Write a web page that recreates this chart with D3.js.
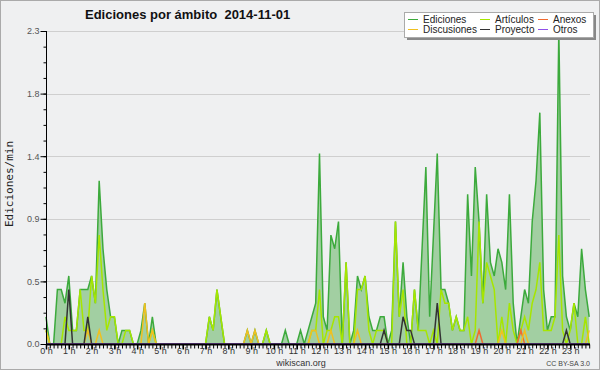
<!DOCTYPE html>
<html>
<head>
<meta charset="utf-8">
<script src="https://cdn.jsdelivr.net/npm/d3@7"></script>
<style>
  body { margin: 0; background: #eff0f1; }
  svg { display: block; }
  text { font-family: "Liberation Sans", Arial, sans-serif; }
</style>
</head>
<body>
<script>
// 10-minute buckets, 144 per day (edits per minute)
const ediciones = [
  0.2,0,0,0.4,0.4,0.3,0.5,0.1,0.1,0.4,
  0.4,0.4,0.5,0.3,1.2,0.7,0.4,0.2,0.2,0,
  0.1,0.1,0.1,0,0,0.1,0.3,0,0.2,0,
  0,0,0,0,0,0,0,0,0,0,
  0,0,0,0.2,0.1,0.4,0.2,0,0,0,
  0,0,0,0.1,0,0.1,0,0,0.1,0,
  0,0,0,0.1,0,0,0,0.1,0,0.1,
  0.2,0.3,1.4,0.2,0.1,0.8,0.7,0.9,0,0.6,
  0,0.1,0.5,0.4,0.5,0.2,0.1,0.1,0.2,0.2,
  0,0.1,0.9,0.2,0.6,0.2,0,0.4,0.1,0.7,
  1.3,0.2,0.8,1.4,0.4,0.4,0.3,0.1,0.2,0.1,
  0.1,1.1,0.5,1.3,0.9,0.3,1.1,0.6,0.5,0.7,
  0.6,0.4,1.1,0.3,0,0.2,0.4,0.3,0.9,1.2,
  1.7,0.4,0.1,0.2,0.2,2.3,0.5,0.2,0.1,0.3,
  0.2,0.7,0.4,0.2
];
const articulos = [
  0.1,0,0,0,0,0.2,0.1,0.1,0.1,0.4,
  0.1,0.1,0.5,0.3,0.8,0.4,0.1,0.2,0.2,0,
  0,0.1,0.1,0,0,0,0,0,0.1,0,
  0,0,0,0,0,0,0,0,0,0,
  0,0,0,0.2,0.1,0.4,0.2,0,0,0,
  0,0,0,0,0,0,0,0,0.1,0,
  0,0,0,0,0,0,0,0,0,0,
  0.1,0.1,0.4,0,0.1,0.1,0.2,0.2,0,0.6,
  0,0,0.4,0.4,0.5,0.1,0,0.1,0.1,0.1,
  0,0,0.9,0.2,0.4,0,0,0.4,0.1,0.1,
  0.1,0,0.1,0,0.4,0.3,0.3,0.1,0.2,0.1,
  0.1,0.2,0,0.1,0.9,0.3,0.6,0.5,0.4,0,
  0.2,0,0.3,0.1,0,0.1,0.2,0.1,0.3,0.4,
  0.6,0.1,0.1,0.1,0.2,0.8,0.1,0,0.1,0.3,
  0,0,0.2,0
];
const anexos = [
  0,0,0,0,0,0,0,0,0,0, 0,0,0,0,0,0,0,0,0,0,
  0,0,0,0,0,0,0,0,0,0, 0,0,0,0,0,0,0,0,0,0,
  0,0,0,0,0,0,0,0,0,0, 0,0,0,0,0,0,0,0,0,0,
  0,0,0,0,0,0,0,0,0,0, 0,0,0,0,0,0,0,0,0,0,
  0,0,0,0,0,0,0,0,0,0, 0,0,0,0,0,0,0,0,0,0,
  0,0,0,0,0,0,0,0,0,0, 0,0,0,0,0.1,0,0,0,0,0,
  0,0,0,0,0,0.1,0,0,0,0, 0,0,0,0,0,0,0,0,0,0,
  0,0,0,0
];
const discusiones = [
  0.1,0,0,0,0,0,0,0,0,0, 0,0.1,0,0,0.1,0,0,0,0,0,
  0,0,0,0,0,0,0.3,0,0.1,0, 0,0,0,0,0,0,0,0,0,0,
  0,0,0,0,0,0,0,0,0,0, 0,0,0,0.1,0,0.1,0,0,0,0,
  0,0,0,0,0,0,0,0,0,0, 0.1,0.1,0,0,0,0.1,0,0,0,0,
  0,0,0.1,0,0,0,0,0,0,0, 0,0,0,0,0,0,0,0,0,0,
  0,0,0,0,0,0,0,0,0,0, 0,0,0,0,0,0,0,0,0,0,
  0.1,0,0,0,0,0,0.1,0,0,0, 0,0,0,0,0,0,0,0,0,0,
  0,0,0,0.1
];
const proyecto = [
  0,0,0,0,0,0,0.4,0,0,0, 0,0.2,0,0,0,0,0,0,0,0,
  0,0,0,0,0,0,0,0,0,0, 0,0,0,0,0,0,0,0,0,0,
  0,0,0,0,0,0,0,0,0,0, 0,0,0,0,0,0,0,0,0,0,
  0,0,0,0,0,0,0,0,0,0, 0,0,0,0,0,0,0,0,0,0,
  0,0,0,0,0,0,0,0,0,0.1, 0,0,0,0,0.2,0.1,0.1,0,0,0,
  0,0,0,0.3,0,0,0,0,0,0, 0,0,0,0,0,0,0,0,0,0,
  0,0,0,0,0,0,0,0,0,0, 0,0,0,0,0,0,0,0.1,0,0,
  0,0,0,0
];
const otros = new Array(144).fill(0);

const hourLabels = d3.range(24).map(h => h + " h");
const yTickLabels = ["0.0","0.5","0.9","1.4","1.8","2.3"];

const series = [
  {name: "Ediciones",   values: ediciones,   color: "#3caa3c"},
  {name: "Artículos",   values: articulos,   color: "#a6e600"},
  {name: "Anexos",      values: anexos,      color: "#f06a30"},
  {name: "Discusiones", values: discusiones, color: "#f0c020"},
  {name: "Proyecto",    values: proyecto,    color: "#333333"},
  {name: "Otros",       values: otros,       color: "#9050e8"}
];

const width = 600, height = 370;
const x = d3.scaleLinear().domain([0, 144]).range([46, 593]);
const y = d3.scaleLinear().domain([0, 2.3]).range([344, 31]);

const svg = d3.select("body").append("svg")
  .attr("width", width).attr("height", height);

svg.append("rect").attr("x", 0.5).attr("y", 0.5)
  .attr("width", width - 1).attr("height", height - 1)
  .attr("fill", "#eff0f1").attr("stroke", "#aaa");

// gridlines at the major y ticks
const majorY = d3.range(6).map(k => k * 2.3 / 5);
svg.append("g").selectAll("line").data(majorY.slice(1)).join("line")
  .attr("x1", 46).attr("x2", 590)
  .attr("y1", d => Math.round(y(d)) + 0.5).attr("y2", d => Math.round(y(d)) + 0.5)
  .attr("stroke", "#cfcfcf");

// total area
const area = d3.area().x((d, i) => x(i)).y0(y(0)).y1(d => y(d));
svg.append("path").datum(ediciones)
  .attr("d", area).attr("fill", "#a2cfa2");

const line = d3.line().x((d, i) => x(i)).y(d => y(d));
series.forEach(s => {
  svg.append("path").datum(s.values)
    .attr("d", line)
    .attr("fill", "none")
    .attr("stroke", s.color)
    .attr("stroke-width", 1.5)
    .attr("stroke-linejoin", "miter");
});

// y axis
const minorY = d3.range(21).map(k => k * 2.3 / 20);
const yMinor = d3.axisLeft(y).tickValues(minorY).tickSize(3).tickFormat("");
svg.append("g").attr("transform", "translate(46.5,0)").call(yMinor)
  .call(g => g.select(".domain").remove());
const yMajor = d3.axisLeft(y).tickValues(majorY).tickSize(6)
  .tickFormat((d, i) => yTickLabels[i]);
svg.append("g").attr("transform", "translate(46.5,0)").call(yMajor)
  .call(g => g.select(".domain").attr("d", `M0,${y(2.3)}V${y(0)}`))
  .call(g => g.selectAll("text").attr("font-size", 9).attr("fill", "#555")
    .attr("font-family", "Liberation Sans, Arial, sans-serif").attr("x", -7));

// x axis
const xMinor = d3.axisBottom(x).tickValues(d3.range(144)).tickSize(4).tickFormat("");
svg.append("g").attr("transform", "translate(0,344.5)").call(xMinor)
  .call(g => g.select(".domain").remove());
const xMajor = d3.axisBottom(x).tickValues(d3.range(24).map(h => h * 6)).tickSize(5)
  .tickFormat((d, i) => hourLabels[i]);
svg.append("g").attr("transform", "translate(0,344.5)").call(xMajor)
  .call(g => g.select(".domain").attr("d", `M46,0H590`).attr("stroke-width", 2))
  .call(g => g.selectAll(".tick line").attr("stroke-width", 1.5))
  .call(g => g.selectAll("text").attr("font-size", 9).attr("fill", "#333")
    .attr("font-family", "Liberation Sans, Arial, sans-serif").attr("y", 3).attr("dy", "0.71em"));

// title
svg.append("text").attr("x", 85).attr("y", 19)
  .attr("font-size", 13).attr("font-weight", "bold").attr("fill", "#111")
  .attr("xml:space", "preserve")
  .text("Ediciones por ámbito  2014-11-01");

// y label
svg.append("text")
  .attr("transform", "translate(13,184) rotate(-90)")
  .attr("text-anchor", "middle")
  .style("font-family", "'DejaVu Sans Mono', monospace")
  .attr("font-size", 11).attr("fill", "#222")
  .text("Ediciones/min");

// footer
svg.append("text").attr("x", 301).attr("y", 366).attr("text-anchor", "middle")
  .attr("font-size", 9).attr("fill", "#333").text("wikiscan.org");
svg.append("text").attr("x", 590).attr("y", 366).attr("text-anchor", "end")
  .attr("font-size", 7).attr("fill", "#444").text("CC BY-SA  3.0");

// legend
const lg = svg.append("g");
lg.append("rect").attr("x", 407).attr("y", 15).attr("width", 189).attr("height", 25).attr("fill", "#888");
lg.append("rect").attr("x", 404.5).attr("y", 12.5).attr("width", 189).attr("height", 25)
  .attr("fill", "#fff").attr("stroke", "#aaa");
const colX = [408, 480, 538];
const rowY = [19, 29];
series.forEach((s, i) => {
  const cx = colX[i % 3], cy = rowY[Math.floor(i / 3)];
  lg.append("line").attr("x1", cx).attr("x2", cx + 10)
    .attr("y1", cy + 0.5).attr("y2", cy + 0.5)
    .attr("stroke", s.color).attr("stroke-width", 1);
  lg.append("text").attr("x", cx + 15).attr("y", cy + 3.5)
    .attr("font-size", 10).attr("fill", "#222").text(s.name);
});
</script>
</body>
</html>
